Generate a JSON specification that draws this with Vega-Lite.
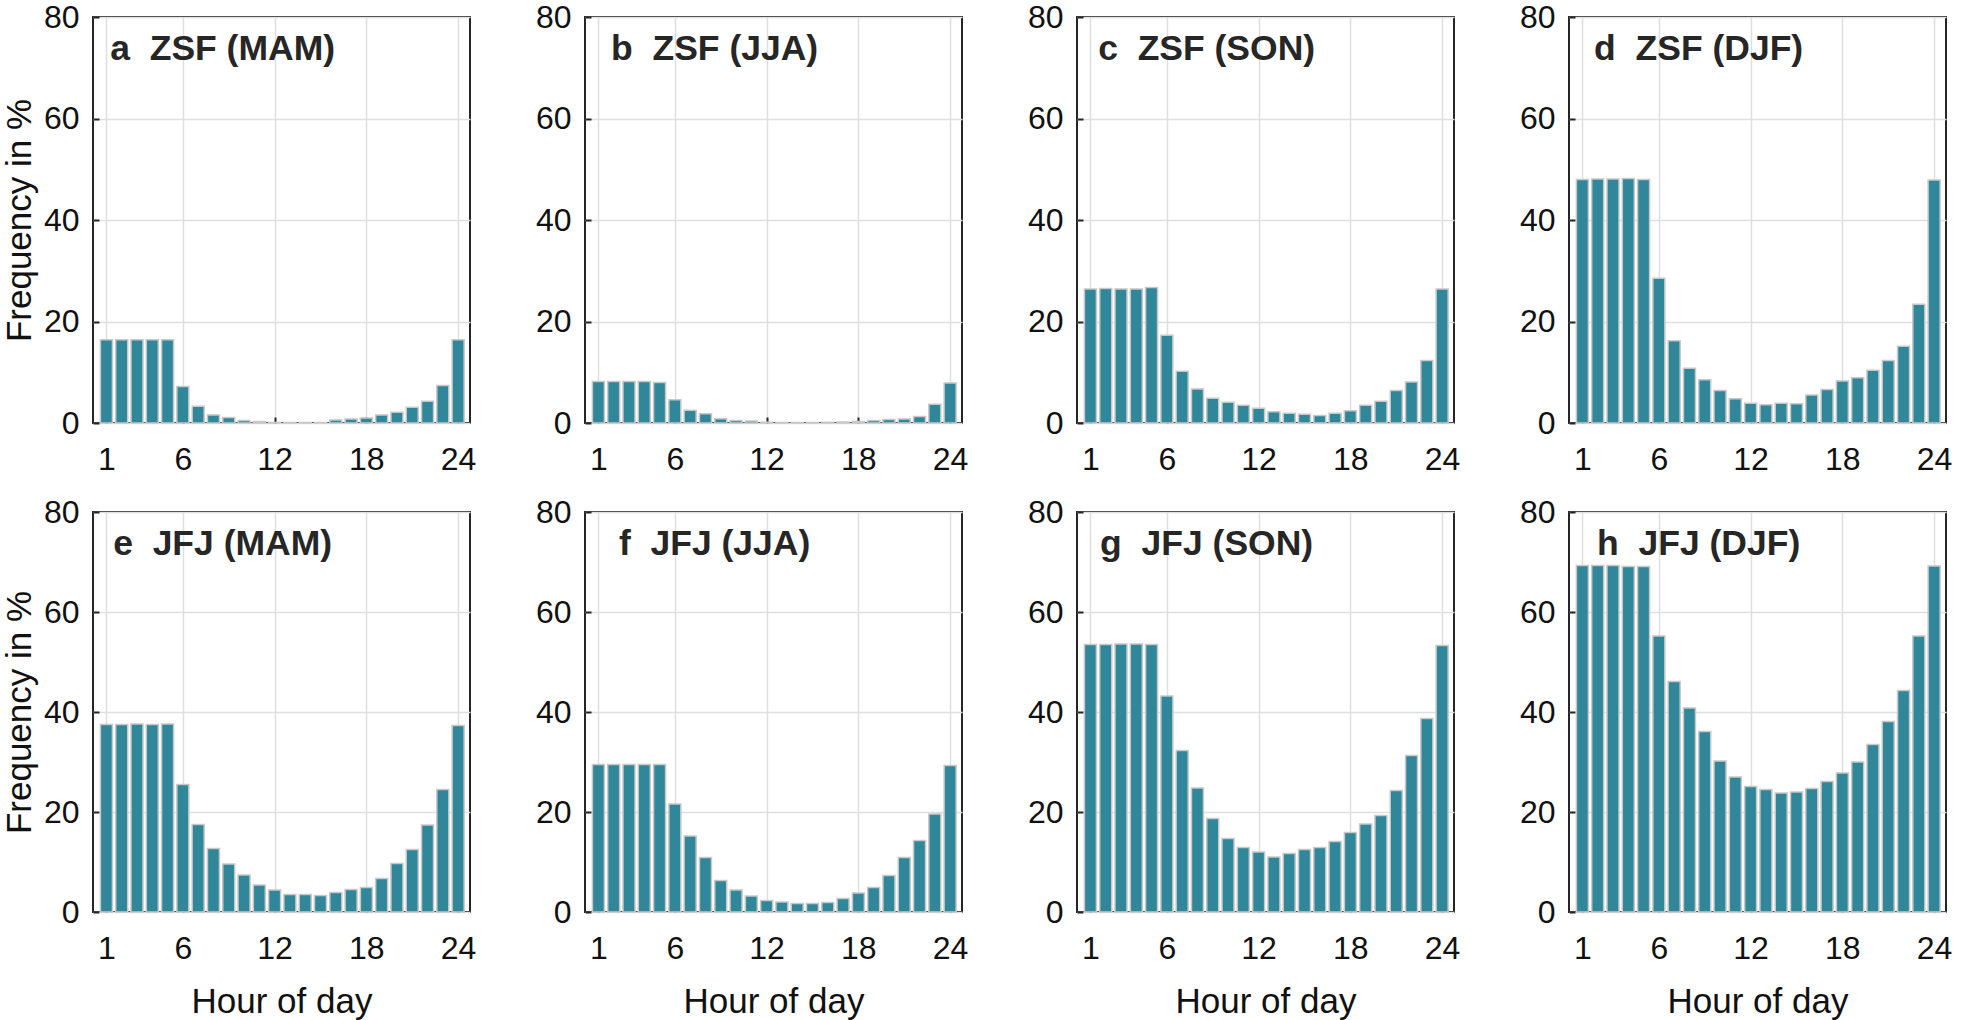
{
  "$schema": "https://vega.github.io/schema/vega-lite/v6.json",
  "background": "white",
  "padding": {"left": 1, "top": 0, "right": 0, "bottom": 0},
  "columns": 4,
  "bounds": "flush",
  "spacing": {"row": 89, "column": 115},
  "datasets": {
    "bars": [
      {"p":"a","h":1,"f":16.4},{"p":"a","h":2,"f":16.4},{"p":"a","h":3,"f":16.4},{"p":"a","h":4,"f":16.4},{"p":"a","h":5,"f":16.4},{"p":"a","h":6,"f":7.2},{"p":"a","h":7,"f":3.3},{"p":"a","h":8,"f":1.6},{"p":"a","h":9,"f":1.1},{"p":"a","h":10,"f":0.5},{"p":"a","h":11,"f":0.3},{"p":"a","h":12,"f":0.1},{"p":"a","h":13,"f":0.1},{"p":"a","h":14,"f":0.1},{"p":"a","h":15,"f":0.1},{"p":"a","h":16,"f":0.6},{"p":"a","h":17,"f":0.8},{"p":"a","h":18,"f":1.0},{"p":"a","h":19,"f":1.6},{"p":"a","h":20,"f":2.1},{"p":"a","h":21,"f":3.1},{"p":"a","h":22,"f":4.3},{"p":"a","h":23,"f":7.4},{"p":"a","h":24,"f":16.4},
      {"p":"b","h":1,"f":8.2},{"p":"b","h":2,"f":8.2},{"p":"b","h":3,"f":8.2},{"p":"b","h":4,"f":8.2},{"p":"b","h":5,"f":8.0},{"p":"b","h":6,"f":4.6},{"p":"b","h":7,"f":2.5},{"p":"b","h":8,"f":1.8},{"p":"b","h":9,"f":0.85},{"p":"b","h":10,"f":0.5},{"p":"b","h":11,"f":0.4},{"p":"b","h":12,"f":0.15},{"p":"b","h":13,"f":0.1},{"p":"b","h":14,"f":0.1},{"p":"b","h":15,"f":0.1},{"p":"b","h":16,"f":0.15},{"p":"b","h":17,"f":0.2},{"p":"b","h":18,"f":0.3},{"p":"b","h":19,"f":0.5},{"p":"b","h":20,"f":0.7},{"p":"b","h":21,"f":0.8},{"p":"b","h":22,"f":1.3},{"p":"b","h":23,"f":3.7},{"p":"b","h":24,"f":7.9},
      {"p":"c","h":1,"f":26.4},{"p":"c","h":2,"f":26.5},{"p":"c","h":3,"f":26.4},{"p":"c","h":4,"f":26.4},{"p":"c","h":5,"f":26.7},{"p":"c","h":6,"f":17.3},{"p":"c","h":7,"f":10.2},{"p":"c","h":8,"f":6.7},{"p":"c","h":9,"f":4.9},{"p":"c","h":10,"f":4.1},{"p":"c","h":11,"f":3.5},{"p":"c","h":12,"f":2.9},{"p":"c","h":13,"f":2.2},{"p":"c","h":14,"f":1.9},{"p":"c","h":15,"f":1.7},{"p":"c","h":16,"f":1.5},{"p":"c","h":17,"f":1.9},{"p":"c","h":18,"f":2.4},{"p":"c","h":19,"f":3.5},{"p":"c","h":20,"f":4.3},{"p":"c","h":21,"f":6.4},{"p":"c","h":22,"f":8.1},{"p":"c","h":23,"f":12.3},{"p":"c","h":24,"f":26.4},
      {"p":"d","h":1,"f":48.0},{"p":"d","h":2,"f":48.1},{"p":"d","h":3,"f":48.1},{"p":"d","h":4,"f":48.2},{"p":"d","h":5,"f":48.0},{"p":"d","h":6,"f":28.5},{"p":"d","h":7,"f":16.2},{"p":"d","h":8,"f":10.8},{"p":"d","h":9,"f":8.5},{"p":"d","h":10,"f":6.4},{"p":"d","h":11,"f":4.8},{"p":"d","h":12,"f":3.9},{"p":"d","h":13,"f":3.6},{"p":"d","h":14,"f":3.9},{"p":"d","h":15,"f":3.8},{"p":"d","h":16,"f":5.5},{"p":"d","h":17,"f":6.6},{"p":"d","h":18,"f":8.3},{"p":"d","h":19,"f":8.9},{"p":"d","h":20,"f":10.4},{"p":"d","h":21,"f":12.3},{"p":"d","h":22,"f":15.1},{"p":"d","h":23,"f":23.4},{"p":"d","h":24,"f":47.9},
      {"p":"e","h":1,"f":37.5},{"p":"e","h":2,"f":37.5},{"p":"e","h":3,"f":37.6},{"p":"e","h":4,"f":37.5},{"p":"e","h":5,"f":37.6},{"p":"e","h":6,"f":25.5},{"p":"e","h":7,"f":17.5},{"p":"e","h":8,"f":12.7},{"p":"e","h":9,"f":9.6},{"p":"e","h":10,"f":7.4},{"p":"e","h":11,"f":5.4},{"p":"e","h":12,"f":4.4},{"p":"e","h":13,"f":3.5},{"p":"e","h":14,"f":3.5},{"p":"e","h":15,"f":3.3},{"p":"e","h":16,"f":3.9},{"p":"e","h":17,"f":4.5},{"p":"e","h":18,"f":4.9},{"p":"e","h":19,"f":6.7},{"p":"e","h":20,"f":9.7},{"p":"e","h":21,"f":12.5},{"p":"e","h":22,"f":17.4},{"p":"e","h":23,"f":24.5},{"p":"e","h":24,"f":37.3},
      {"p":"f","h":1,"f":29.5},{"p":"f","h":2,"f":29.5},{"p":"f","h":3,"f":29.5},{"p":"f","h":4,"f":29.5},{"p":"f","h":5,"f":29.5},{"p":"f","h":6,"f":21.6},{"p":"f","h":7,"f":15.2},{"p":"f","h":8,"f":10.9},{"p":"f","h":9,"f":6.3},{"p":"f","h":10,"f":4.4},{"p":"f","h":11,"f":3.2},{"p":"f","h":12,"f":2.3},{"p":"f","h":13,"f":2.0},{"p":"f","h":14,"f":1.7},{"p":"f","h":15,"f":1.7},{"p":"f","h":16,"f":1.9},{"p":"f","h":17,"f":2.7},{"p":"f","h":18,"f":3.8},{"p":"f","h":19,"f":4.9},{"p":"f","h":20,"f":7.3},{"p":"f","h":21,"f":10.9},{"p":"f","h":22,"f":14.3},{"p":"f","h":23,"f":19.6},{"p":"f","h":24,"f":29.3},
      {"p":"g","h":1,"f":53.5},{"p":"g","h":2,"f":53.5},{"p":"g","h":3,"f":53.6},{"p":"g","h":4,"f":53.6},{"p":"g","h":5,"f":53.5},{"p":"g","h":6,"f":43.2},{"p":"g","h":7,"f":32.3},{"p":"g","h":8,"f":24.8},{"p":"g","h":9,"f":18.7},{"p":"g","h":10,"f":14.7},{"p":"g","h":11,"f":12.9},{"p":"g","h":12,"f":12.0},{"p":"g","h":13,"f":11.0},{"p":"g","h":14,"f":11.7},{"p":"g","h":15,"f":12.5},{"p":"g","h":16,"f":12.9},{"p":"g","h":17,"f":14.1},{"p":"g","h":18,"f":15.9},{"p":"g","h":19,"f":17.6},{"p":"g","h":20,"f":19.3},{"p":"g","h":21,"f":24.3},{"p":"g","h":22,"f":31.3},{"p":"g","h":23,"f":38.7},{"p":"g","h":24,"f":53.3},
      {"p":"h","h":1,"f":69.3},{"p":"h","h":2,"f":69.3},{"p":"h","h":3,"f":69.3},{"p":"h","h":4,"f":69.1},{"p":"h","h":5,"f":69.1},{"p":"h","h":6,"f":55.2},{"p":"h","h":7,"f":46.1},{"p":"h","h":8,"f":40.8},{"p":"h","h":9,"f":36.1},{"p":"h","h":10,"f":30.2},{"p":"h","h":11,"f":27.0},{"p":"h","h":12,"f":25.1},{"p":"h","h":13,"f":24.5},{"p":"h","h":14,"f":23.8},{"p":"h","h":15,"f":24.0},{"p":"h","h":16,"f":24.7},{"p":"h","h":17,"f":26.1},{"p":"h","h":18,"f":27.8},{"p":"h","h":19,"f":30.0},{"p":"h","h":20,"f":33.5},{"p":"h","h":21,"f":38.1},{"p":"h","h":22,"f":44.3},{"p":"h","h":23,"f":55.2},{"p":"h","h":24,"f":69.2}
    ],
    "labels": [
      {"p":"a","t":"a\u00a0\u00a0ZSF (MAM)"},
      {"p":"b","t":"b\u00a0\u00a0ZSF (JJA)"},
      {"p":"c","t":"c\u00a0\u00a0ZSF (SON)"},
      {"p":"d","t":"d\u00a0\u00a0ZSF (DJF)"},
      {"p":"e","t":"e\u00a0\u00a0JFJ (MAM)"},
      {"p":"f","t":"f\u00a0\u00a0JFJ (JJA)"},
      {"p":"g","t":"g\u00a0\u00a0JFJ (SON)"},
      {"p":"h","t":"h\u00a0\u00a0JFJ (DJF)"}
    ]
  },
  "config": {
    "font": "Liberation Sans",
    "view": {"stroke": "#262626", "strokeWidth": 2},
    "axis": {
      "labelFont": "Liberation Sans", "labelFontSize": 32, "labelColor": "#111111",
      "titleFont": "Liberation Sans", "titleFontSize": 35, "titleFontWeight": "normal", "titleColor": "#111111",
      "gridColor": "#dfdfdf", "gridWidth": 1.5,
      "domain": false,
      "tickColor": "#262626", "tickWidth": 2, "tickSize": -6,
      "labelFlush": false, "labelOverlap": false, "labelBound": false
    },
    "axisX": {"labelPadding": 27, "titlePadding": 20},
    "axisY": {"labelPadding": 20, "titlePadding": 6}
  },
  "concat": [
    {"width": 377, "height": 406, "layer": [
      {"data": {"name": "bars"}, "transform": [{"filter": "datum.p === 'a'"}],
       "mark": {"type": "bar", "width": 12, "fill": "#31879a", "stroke": "#c8c8c8", "strokeWidth": 1.5},
       "encoding": {
         "x": {"field": "h", "type": "quantitative", "scale": {"domain": [0.45, 24.45], "nice": false, "zero": false}, "axis": {"values": [1, 6, 12, 18, 24], "title": null}},
         "y": {"field": "f", "type": "quantitative", "scale": {"domain": [0, 80], "nice": false}, "axis": {"values": [0, 20, 40, 60, 80], "title": "Frequency in %"}}}},
      {"data": {"name": "labels"}, "transform": [{"filter": "datum.p === 'a'"}],
       "mark": {"type": "text", "font": "Liberation Sans", "fontWeight": "bold", "fontSize": 35.5, "color": "#262626", "align": "center", "baseline": "alphabetic"},
       "encoding": {"x": {"datum": 8.6}, "y": {"datum": 71.5}, "text": {"field": "t"}}}
    ]},
    {"width": 377, "height": 406, "layer": [
      {"data": {"name": "bars"}, "transform": [{"filter": "datum.p === 'b'"}],
       "mark": {"type": "bar", "width": 12, "fill": "#31879a", "stroke": "#c8c8c8", "strokeWidth": 1.5},
       "encoding": {
         "x": {"field": "h", "type": "quantitative", "scale": {"domain": [0.45, 24.45], "nice": false, "zero": false}, "axis": {"values": [1, 6, 12, 18, 24], "title": null}},
         "y": {"field": "f", "type": "quantitative", "scale": {"domain": [0, 80], "nice": false}, "axis": {"values": [0, 20, 40, 60, 80], "title": null}}}},
      {"data": {"name": "labels"}, "transform": [{"filter": "datum.p === 'b'"}],
       "mark": {"type": "text", "font": "Liberation Sans", "fontWeight": "bold", "fontSize": 35.5, "color": "#262626", "align": "center", "baseline": "alphabetic"},
       "encoding": {"x": {"datum": 8.6}, "y": {"datum": 71.5}, "text": {"field": "t"}}}
    ]},
    {"width": 377, "height": 406, "layer": [
      {"data": {"name": "bars"}, "transform": [{"filter": "datum.p === 'c'"}],
       "mark": {"type": "bar", "width": 12, "fill": "#31879a", "stroke": "#c8c8c8", "strokeWidth": 1.5},
       "encoding": {
         "x": {"field": "h", "type": "quantitative", "scale": {"domain": [0.45, 24.45], "nice": false, "zero": false}, "axis": {"values": [1, 6, 12, 18, 24], "title": null}},
         "y": {"field": "f", "type": "quantitative", "scale": {"domain": [0, 80], "nice": false}, "axis": {"values": [0, 20, 40, 60, 80], "title": null}}}},
      {"data": {"name": "labels"}, "transform": [{"filter": "datum.p === 'c'"}],
       "mark": {"type": "text", "font": "Liberation Sans", "fontWeight": "bold", "fontSize": 35.5, "color": "#262626", "align": "center", "baseline": "alphabetic"},
       "encoding": {"x": {"datum": 8.6}, "y": {"datum": 71.5}, "text": {"field": "t"}}}
    ]},
    {"width": 377, "height": 406, "layer": [
      {"data": {"name": "bars"}, "transform": [{"filter": "datum.p === 'd'"}],
       "mark": {"type": "bar", "width": 12, "fill": "#31879a", "stroke": "#c8c8c8", "strokeWidth": 1.5},
       "encoding": {
         "x": {"field": "h", "type": "quantitative", "scale": {"domain": [0.45, 24.45], "nice": false, "zero": false}, "axis": {"values": [1, 6, 12, 18, 24], "title": null}},
         "y": {"field": "f", "type": "quantitative", "scale": {"domain": [0, 80], "nice": false}, "axis": {"values": [0, 20, 40, 60, 80], "title": null}}}},
      {"data": {"name": "labels"}, "transform": [{"filter": "datum.p === 'd'"}],
       "mark": {"type": "text", "font": "Liberation Sans", "fontWeight": "bold", "fontSize": 35.5, "color": "#262626", "align": "center", "baseline": "alphabetic"},
       "encoding": {"x": {"datum": 8.6}, "y": {"datum": 71.5}, "text": {"field": "t"}}}
    ]},
    {"width": 377, "height": 400, "layer": [
      {"data": {"name": "bars"}, "transform": [{"filter": "datum.p === 'e'"}],
       "mark": {"type": "bar", "width": 12, "fill": "#31879a", "stroke": "#c8c8c8", "strokeWidth": 1.5},
       "encoding": {
         "x": {"field": "h", "type": "quantitative", "scale": {"domain": [0.45, 24.45], "nice": false, "zero": false}, "axis": {"values": [1, 6, 12, 18, 24], "title": "Hour of day"}},
         "y": {"field": "f", "type": "quantitative", "scale": {"domain": [0, 80], "nice": false}, "axis": {"values": [0, 20, 40, 60, 80], "title": "Frequency in %"}}}},
      {"data": {"name": "labels"}, "transform": [{"filter": "datum.p === 'e'"}],
       "mark": {"type": "text", "font": "Liberation Sans", "fontWeight": "bold", "fontSize": 35.5, "color": "#262626", "align": "center", "baseline": "alphabetic"},
       "encoding": {"x": {"datum": 8.6}, "y": {"datum": 71.5}, "text": {"field": "t"}}}
    ]},
    {"width": 377, "height": 400, "layer": [
      {"data": {"name": "bars"}, "transform": [{"filter": "datum.p === 'f'"}],
       "mark": {"type": "bar", "width": 12, "fill": "#31879a", "stroke": "#c8c8c8", "strokeWidth": 1.5},
       "encoding": {
         "x": {"field": "h", "type": "quantitative", "scale": {"domain": [0.45, 24.45], "nice": false, "zero": false}, "axis": {"values": [1, 6, 12, 18, 24], "title": "Hour of day"}},
         "y": {"field": "f", "type": "quantitative", "scale": {"domain": [0, 80], "nice": false}, "axis": {"values": [0, 20, 40, 60, 80], "title": null}}}},
      {"data": {"name": "labels"}, "transform": [{"filter": "datum.p === 'f'"}],
       "mark": {"type": "text", "font": "Liberation Sans", "fontWeight": "bold", "fontSize": 35.5, "color": "#262626", "align": "center", "baseline": "alphabetic"},
       "encoding": {"x": {"datum": 8.6}, "y": {"datum": 71.5}, "text": {"field": "t"}}}
    ]},
    {"width": 377, "height": 400, "layer": [
      {"data": {"name": "bars"}, "transform": [{"filter": "datum.p === 'g'"}],
       "mark": {"type": "bar", "width": 12, "fill": "#31879a", "stroke": "#c8c8c8", "strokeWidth": 1.5},
       "encoding": {
         "x": {"field": "h", "type": "quantitative", "scale": {"domain": [0.45, 24.45], "nice": false, "zero": false}, "axis": {"values": [1, 6, 12, 18, 24], "title": "Hour of day"}},
         "y": {"field": "f", "type": "quantitative", "scale": {"domain": [0, 80], "nice": false}, "axis": {"values": [0, 20, 40, 60, 80], "title": null}}}},
      {"data": {"name": "labels"}, "transform": [{"filter": "datum.p === 'g'"}],
       "mark": {"type": "text", "font": "Liberation Sans", "fontWeight": "bold", "fontSize": 35.5, "color": "#262626", "align": "center", "baseline": "alphabetic"},
       "encoding": {"x": {"datum": 8.6}, "y": {"datum": 71.5}, "text": {"field": "t"}}}
    ]},
    {"width": 377, "height": 400, "layer": [
      {"data": {"name": "bars"}, "transform": [{"filter": "datum.p === 'h'"}],
       "mark": {"type": "bar", "width": 12, "fill": "#31879a", "stroke": "#c8c8c8", "strokeWidth": 1.5},
       "encoding": {
         "x": {"field": "h", "type": "quantitative", "scale": {"domain": [0.45, 24.45], "nice": false, "zero": false}, "axis": {"values": [1, 6, 12, 18, 24], "title": "Hour of day"}},
         "y": {"field": "f", "type": "quantitative", "scale": {"domain": [0, 80], "nice": false}, "axis": {"values": [0, 20, 40, 60, 80], "title": null}}}},
      {"data": {"name": "labels"}, "transform": [{"filter": "datum.p === 'h'"}],
       "mark": {"type": "text", "font": "Liberation Sans", "fontWeight": "bold", "fontSize": 35.5, "color": "#262626", "align": "center", "baseline": "alphabetic"},
       "encoding": {"x": {"datum": 8.6}, "y": {"datum": 71.5}, "text": {"field": "t"}}}
    ]}
  ]
}
